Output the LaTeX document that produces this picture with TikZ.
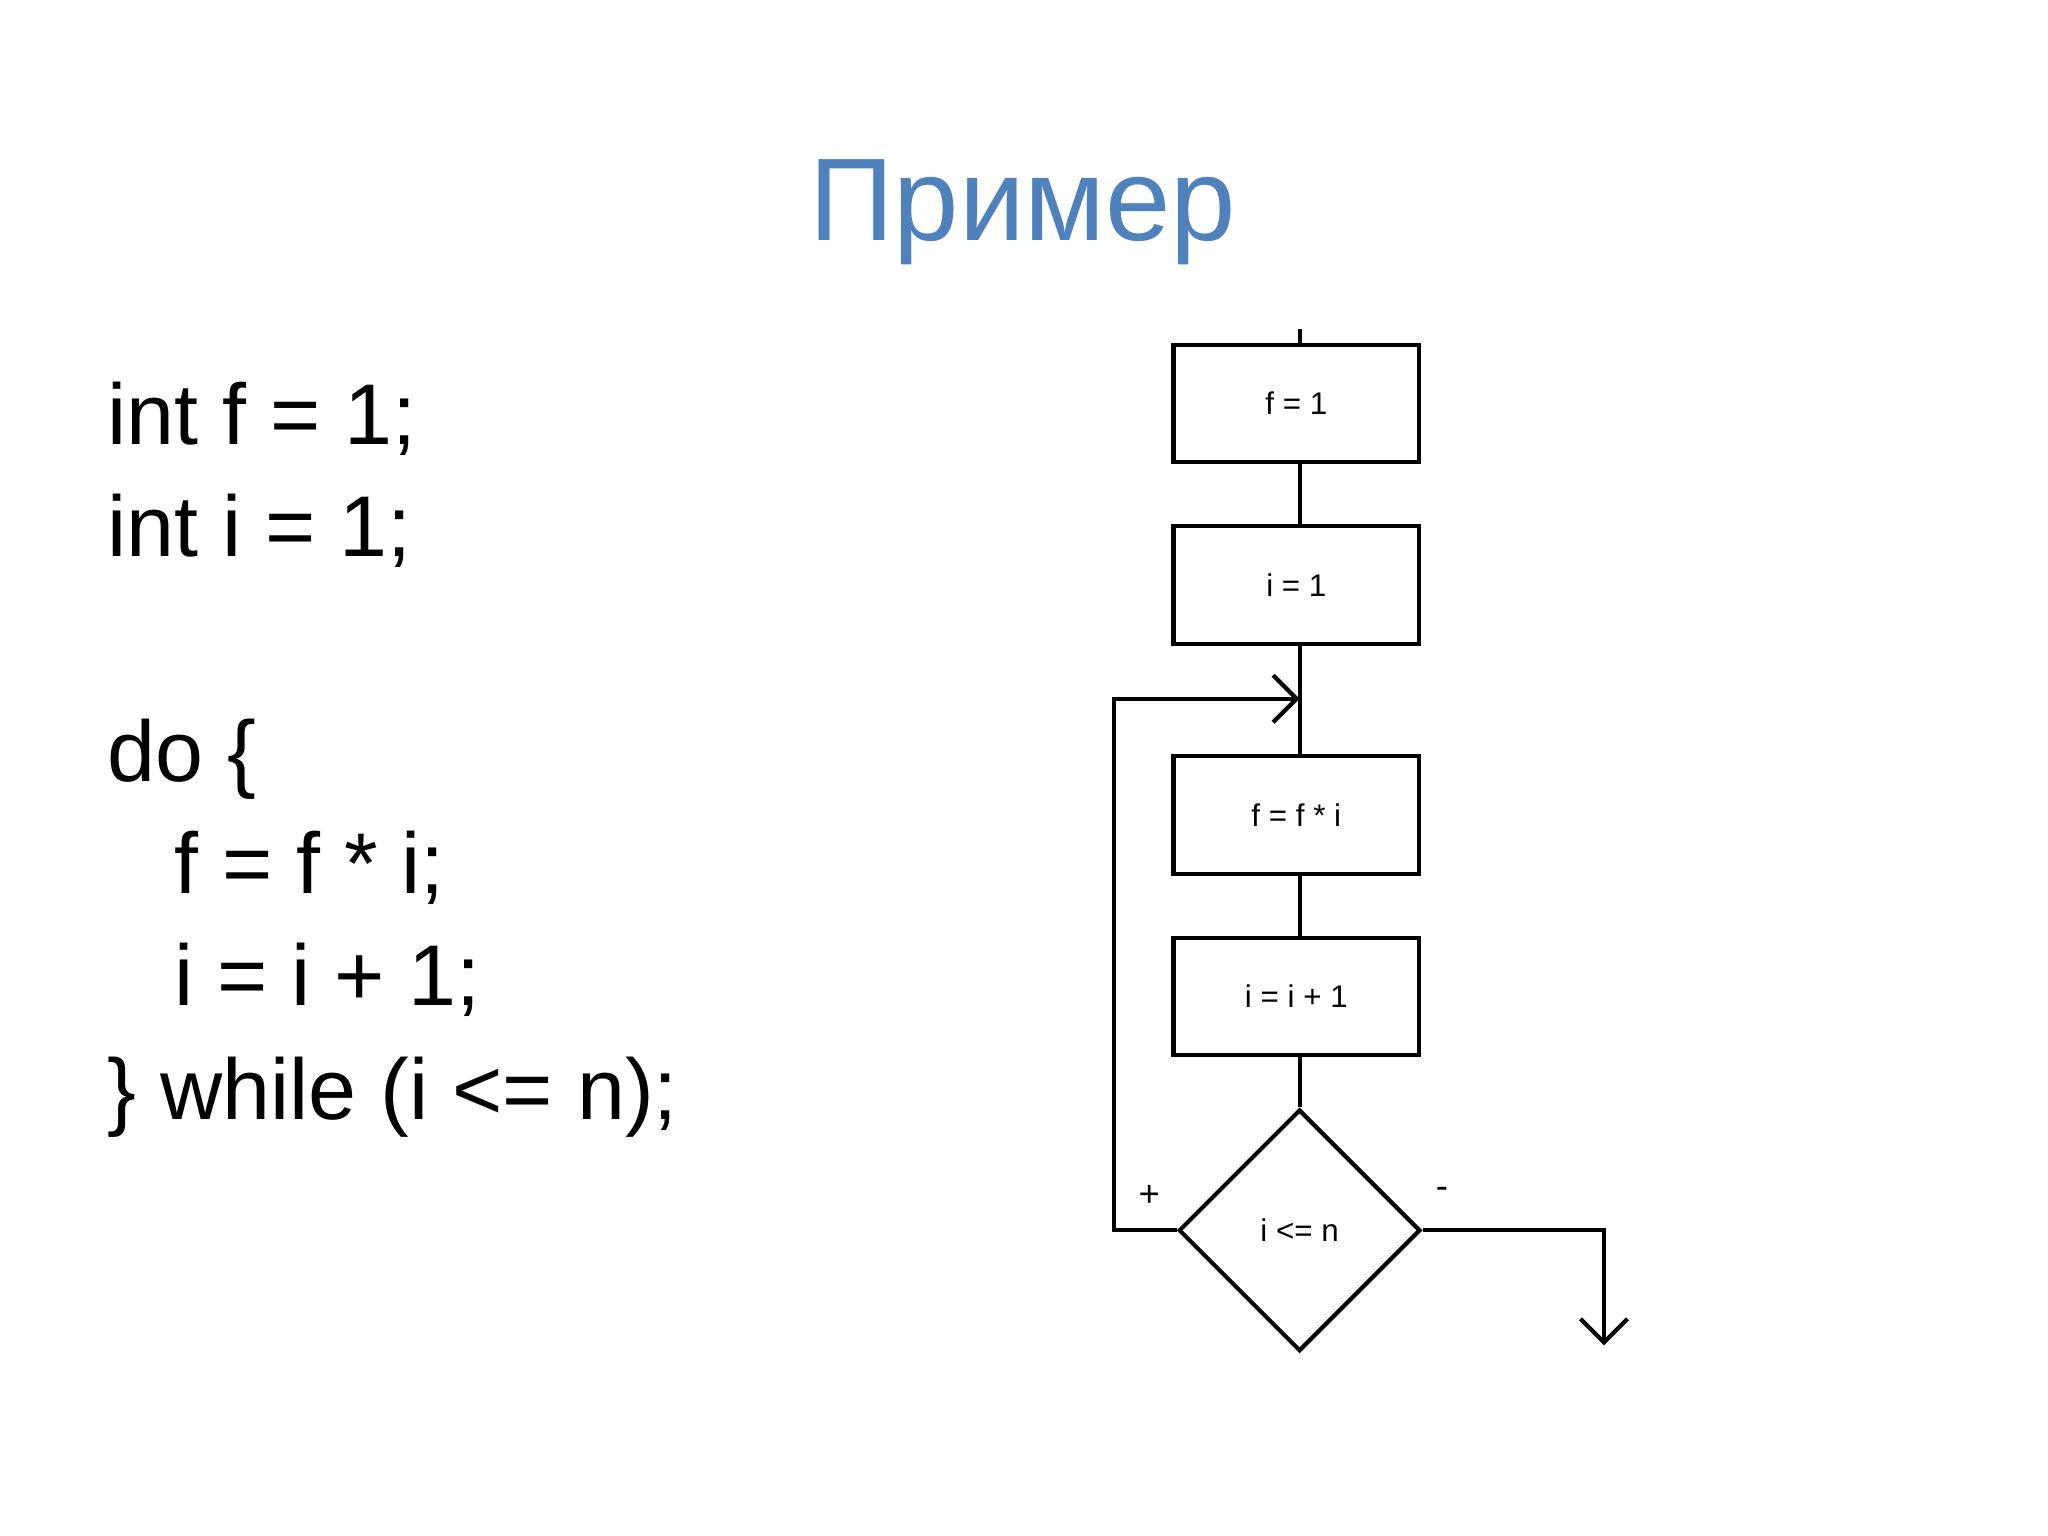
\documentclass[tikz,border=0pt]{standalone}
\usepackage{fontspec}
\setmainfont{Liberation Sans}
\usetikzlibrary{shapes.geometric,arrows.meta}
\definecolor{titleblue}{RGB}{79,129,189}
\begin{document}
\begin{tikzpicture}[x=0.5pt,y=-0.5pt,
  blk/.style={draw,line width=1.6pt,minimum width=94pt,minimum height=45pt,inner sep=0pt,font=\fontsize{12}{14}\selectfont},
  code/.style={anchor=base west,inner sep=0pt,font=\fontsize{33}{36}\selectfont},
  ln/.style={line width=1.6pt},
  arr/.style={ln,-{Straight Barb[length=9pt,width=18pt,line width=1.6pt]}}]
\useasboundingbox (0,0) rectangle (1568,1176);
\node[anchor=base,inner sep=0pt,text=titleblue,font=\fontsize{45}{50}\selectfont] (title) at (783,184) {Пример};
\node[code] (c1) at (82,340) {int f = 1;};
\node[code] (c2) at (82,426) {int i = 1;};
\node[code] (c3) at (82,598) {do \{};
\node[code] (c4) at (133,684) {f = f * i;};
\node[code] (c5) at (133,770) {i = i + 1;};
\node[code] (c6) at (82,857) {\} while (i <= n);};
\node[blk] (b1) at (992.5,309) {f = 1};
\node[blk] (b2) at (992.5,448) {i = 1};
\node[blk] (b3) at (992.5,624) {f = f * i};
\node[blk] (b4) at (992.5,763) {i = i + 1};
\node[draw,ln,diamond,minimum width=92.5pt,minimum height=92.5pt,inner sep=0pt,aspect=1,font=\fontsize{12}{14}\selectfont] (d) at (995,942) {i <= n};
\coordinate (top) at (995,252);
\coordinate (join) at (995,535);
\coordinate (out) at (1228,1030);
\draw[ln] (top) -- (995,264);
\draw[ln] (995,354) -- (995,403);
\draw[ln] (995,493) -- (995,579);
\draw[ln] (995,669) -- (995,718);
\draw[ln] (995,808) -- (d.north);
\draw[arr] (d.west) -- (853,942) -- (853,535) -- (join);
\draw[arr] (d.east) -- (1228,942) -- (out);
\node[font=\fontsize{14}{16}\selectfont,inner sep=0pt] (plus) at (880,916) {+};
\node[font=\fontsize{14}{16}\selectfont,inner sep=0pt] (minus) at (1104,913) {-};
\end{tikzpicture}
\end{document}
